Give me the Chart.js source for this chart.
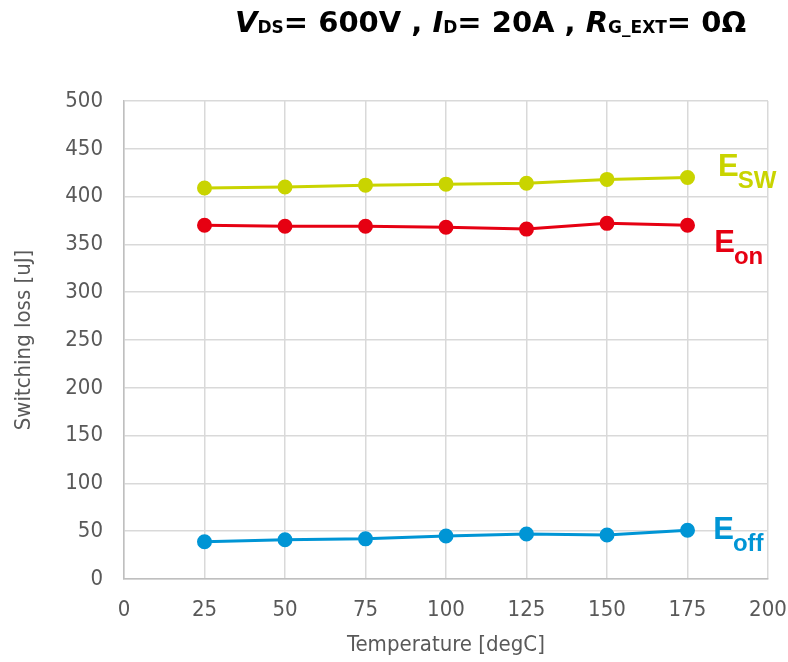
<!DOCTYPE html>
<html>
<head>
<meta charset="utf-8">
<script src="https://cdn.jsdelivr.net/npm/chart.js@4.4.1/dist/chart.umd.min.js"></script>
<style>
    body { margin: 0; background: #fff; }
    #wrap { position: relative; width: 788px; height: 662px; }
    #title {
        position: absolute; left: 235px; top: 8px; line-height: 29px;
        font-family: "DejaVu Sans", sans-serif; font-weight: bold; font-size: 29px; color: #000;
        white-space: nowrap;
    }
    #title i { font-style: italic; }
    #title sub { font-size: 17px; vertical-align: -1px; line-height: 0; }
</style>
</head>
<body>
<div id="wrap">
    <canvas id="chart" width="788" height="662"></canvas>
    <div id="title"><i>V</i><sub>DS</sub>= 600V , <i>I</i><sub>D</sub>= 20A , <i>R</i><sub>G_EXT</sub>= 0Ω</div>
</div>
<script>
        const temps = [25, 50, 75, 100, 125, 150, 175];
        const esw = [409, 410, 412, 413, 414, 418, 420];
        const eon = [370, 369, 369, 368, 366, 372, 370];
        const eoff = [39, 41, 42, 45, 47, 46, 51];

        const xTicks = [0, 25, 50, 75, 100, 125, 150, 175, 200];
        const yTicks = [0, 50, 100, 150, 200, 250, 300, 350, 400, 450, 500];

        // series labels at the right end of each line (x, y = baseline of the big E)
        const seriesLabels = [
            { main: 'E', sub: 'SW', color: '#c9d400', x: 184.5, y: 422 },
            { main: 'E', sub: 'on', color: '#e60012', x: 183.3, y: 342 },
            { main: 'E', sub: 'off', color: '#0095d5', x: 183.0, y: 42 }
        ];

        const toPoints = vals => vals.map((v, i) => ({ x: temps[i], y: v }));

        function makeSet(label, vals, color) {
            return {
                label: label,
                data: toPoints(vals),
                borderColor: color,
                backgroundColor: color,
                borderWidth: 3,
                pointRadius: 6,
                pointHoverRadius: 6,
                tension: 0
            };
        }

        const labelPlugin = {
            id: 'seriesLabels',
            afterDatasetsDraw(chart) {
                const ctx = chart.ctx;
                const xs = chart.scales.x, ys = chart.scales.y;
                ctx.save();
                ctx.textBaseline = 'alphabetic';
                seriesLabels.forEach(l => {
                    const px = xs.getPixelForValue(l.x);
                    const py = ys.getPixelForValue(l.y);
                    ctx.fillStyle = l.color;
                    ctx.font = 'bold 31px "Liberation Sans", sans-serif';
                    ctx.fillText(l.main, px, py);
                    const w = ctx.measureText(l.main).width;
                    ctx.font = 'bold 24px "Liberation Sans", sans-serif';
                    ctx.fillText(l.sub, px + w - 1, py + 12);
                });
                ctx.restore();
            }
        };

        const FONT = '"DejaVu Sans Condensed", sans-serif';
        const tickFont = { family: FONT, size: 22 };
        const titleFont = { family: FONT, size: 22 };

        new Chart(document.getElementById('chart').getContext('2d'), {
            type: 'line',
            data: {
                datasets: [
                    makeSet('Esw', esw, '#c9d400'),
                    makeSet('Eon', eon, '#e60012'),
                    makeSet('Eoff', eoff, '#0095d5')
                ]
            },
            options: {
                responsive: false,
                animation: false,
                layout: { padding: { top: 101, right: 20, left: 7, bottom: 0 } },
                plugins: { legend: { display: false }, tooltip: { enabled: false } },
                scales: {
                    x: {
                        type: 'linear', min: 0, max: 200,
                        afterBuildTicks: s => { s.ticks = xTicks.map(v => ({ value: v })); },
                        afterFit: s => { s.height = 662 - 579; s.paddingLeft = 0; s.paddingRight = 0; },
                        grid: { color: '#d9d9d9', lineWidth: 1.5, drawTicks: false },
                        border: { color: '#bfbfbf', width: 1.5 },
                        ticks: { color: '#595959', font: tickFont, padding: 18, maxRotation: 0 },
                        title: { display: true, text: 'Temperature [degC]', color: '#595959', font: titleFont, padding: { top: 8 } }
                    },
                    y: {
                        min: 0, max: 500,
                        afterBuildTicks: s => { s.ticks = yTicks.map(v => ({ value: v })); },
                        afterFit: s => { s.width = 117; s.paddingTop = 0; s.paddingBottom = 0; },
                        grid: { color: '#d9d9d9', lineWidth: 1.5, drawTicks: false },
                        border: { color: '#bfbfbf', width: 1.5 },
                        ticks: { color: '#595959', font: tickFont, padding: 21 },
                        title: { display: true, text: 'Switching loss [uJ]', color: '#595959', font: titleFont, padding: { bottom: 0 } }
                    }
                }
            },
            plugins: [labelPlugin]
        });
</script>
</body>
</html>
